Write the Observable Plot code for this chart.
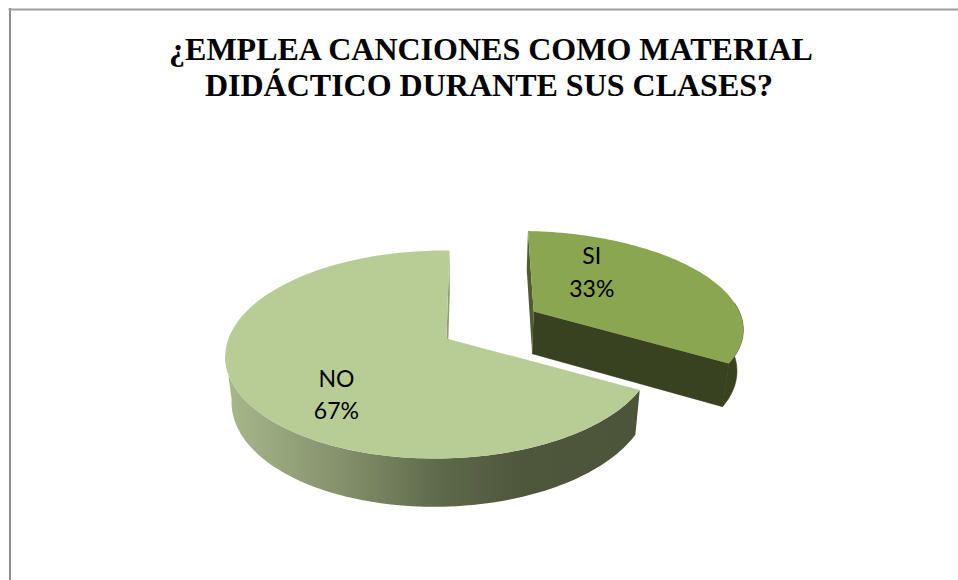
<!DOCTYPE html>
<html><head><meta charset="utf-8">
<script src="https://cdn.jsdelivr.net/npm/d3@7"></script>
<script src="https://cdn.jsdelivr.net/npm/@observablehq/plot@0.6"></script>
<style>html,body{margin:0;padding:0;background:#fff;overflow:hidden}svg{display:block}</style>
</head><body><div id="chart"></div>
<script>
const categories = ["SI", "NO"];
const percents = [33, 67];
const titleLines = ["¿EMPLEA CANCIONES COMO MATERIAL", "DIDÁCTICO DURANTE SUS CLASES?"];
const topColors = ["#8BA650", "#B8CC95"];
const W = 958, H = 580;

// perspective camera for the 3-D pie
const cam = {cx: 468, oy: 338, x0: -22, S: 211, T: 101.5, D: 45, k: 0.154, m: 0.029, n: 0.025};
const explode = 0.5;
const liftY = 0.027;
const stretchX = [1.07, 1];
const siStart = 0.8, siEndExtra = 3;
const proj = (X, Y, z) => {
  const w = 1 + cam.k * Y + cam.m * X + cam.n * z;
  return {x: cam.cx + (cam.x0 + cam.S * X) / w, y: cam.oy + (-cam.T * Y + cam.D * z) / w};
};
const rad = d => d * Math.PI / 180;
const total = d3.sum(percents);
const a1 = percents[0] / total * 360;
const mid = rad(a1 / 2);
const off = [{dx: explode * Math.sin(mid), dy: explode * Math.cos(mid) + liftY}, {dx: 0, dy: 0}];
const rim = (i, deg, z) => proj(off[i].dx + stretchX[i] * Math.sin(rad(deg)), off[i].dy + Math.cos(rad(deg)), z);
const apex = (i, z) => proj(off[i].dx, off[i].dy, z);
const arc = (i, from, to, z) => {
  const n = Math.ceil(Math.abs(to - from) / 1.5);
  return d3.range(n + 1).map(j => rim(i, from + (to - from) * j / n, z));
};
const face = (i, from, to) => [apex(i, 0), ...arc(i, from, to, 0)];
const radial = (i, deg) => [apex(i, 0), rim(i, deg, 0), rim(i, deg, 1), apex(i, 1)];
const wall = (i, from, to) => [...arc(i, from, to, 0), ...arc(i, to, from, 1)];
// outer wall and end wall of the SI slice as one outline, so no seam shows
const sideOutline = (i, from, to) => [...arc(i, from, to, 0), ...arc(i, to, from, 1).slice(0, 1), apex(i, 1), apex(i, 0), rim(i, to, 0), ...arc(i, to, from, 1)];

// label spots as polar positions on each slice
const labelPolar = [{a: 34.9, r: 0.595}, {a: 223.9, r: 0.673}];
const labels = categories.map((c, i) => {
  const p = proj(off[i].dx + labelPolar[i].r * Math.sin(rad(labelPolar[i].a)),
                 off[i].dy + labelPolar[i].r * Math.cos(rad(labelPolar[i].a)), 0);
  return {...p, text: c + "\n" + percents[i] + "%"};
});

const poly = (pts, fill) => Plot.line(pts, {x: "x", y: "y", fill, stroke: "none", curve: "linear"});
const polyEdged = (pts, fill) => Plot.line(pts, {x: "x", y: "y", fill, stroke: fill, strokeWidth: 0.6, curve: "linear"});

const defs = () => {
  const ns = "http://www.w3.org/2000/svg";
  const d = document.createElementNS(ns, "defs");
  const g = document.createElementNS(ns, "linearGradient");
  g.setAttribute("id", "noSide");
  [[0, "#A8B88C"], [0.28, "#84916C"], [0.52, "#5E694A"], [0.72, "#4E563C"], [1, "#4C543A"]].forEach(([o, c]) => {
    const s = document.createElementNS(ns, "stop");
    s.setAttribute("offset", o); s.setAttribute("stop-color", c); g.appendChild(s);
  });
  d.appendChild(g);
  return d;
};

const siEnd = a1 + siEndExtra;
const chart = Plot.plot({
  width: W, height: H, margin: 0,
  x: {domain: [0, W], range: [0, W], axis: null},
  y: {domain: [0, H], range: [0, H], axis: null},
  style: {background: "#fff"},
  marks: [
    defs,
    Plot.ruleX([9.5], {y1: 8, y2: H, stroke: "#8C8C8C", strokeWidth: 2}),
    Plot.ruleY([9], {x1: 8.5, x2: W, stroke: "#A0A0A0", strokeWidth: 2}),
    // SI slice
    poly(radial(0, siStart), "#4F5C30"),
    polyEdged(wall(0, 84, siEnd), "#384120"),
    polyEdged(radial(0, siEnd), "#384120"),
    poly(face(0, siStart, siEnd), topColors[0]),
    // NO slice
    poly(radial(1, 360), "#8F9F72"),
    poly(wall(1, a1, 262), "url(#noSide)"),
    poly(face(1, a1, 360), topColors[1]),
    Plot.text(labels, {x: "x", y: "y", text: "text", fontFamily: "Lato", fontSize: 23, lineHeight: 1.43, fill: "#000"}),
    Plot.text(titleLines.map((t, i) => ({t, i})), {
      x: d => W * 0.512 - d.i * 2, y: d => 49 + d.i * 36.5, text: "t",
      fontFamily: "Liberation Serif", fontWeight: "bold", fontSize: 32, fill: "#000"
    })
  ]
});
document.getElementById("chart").append(chart);
</script></body></html>
